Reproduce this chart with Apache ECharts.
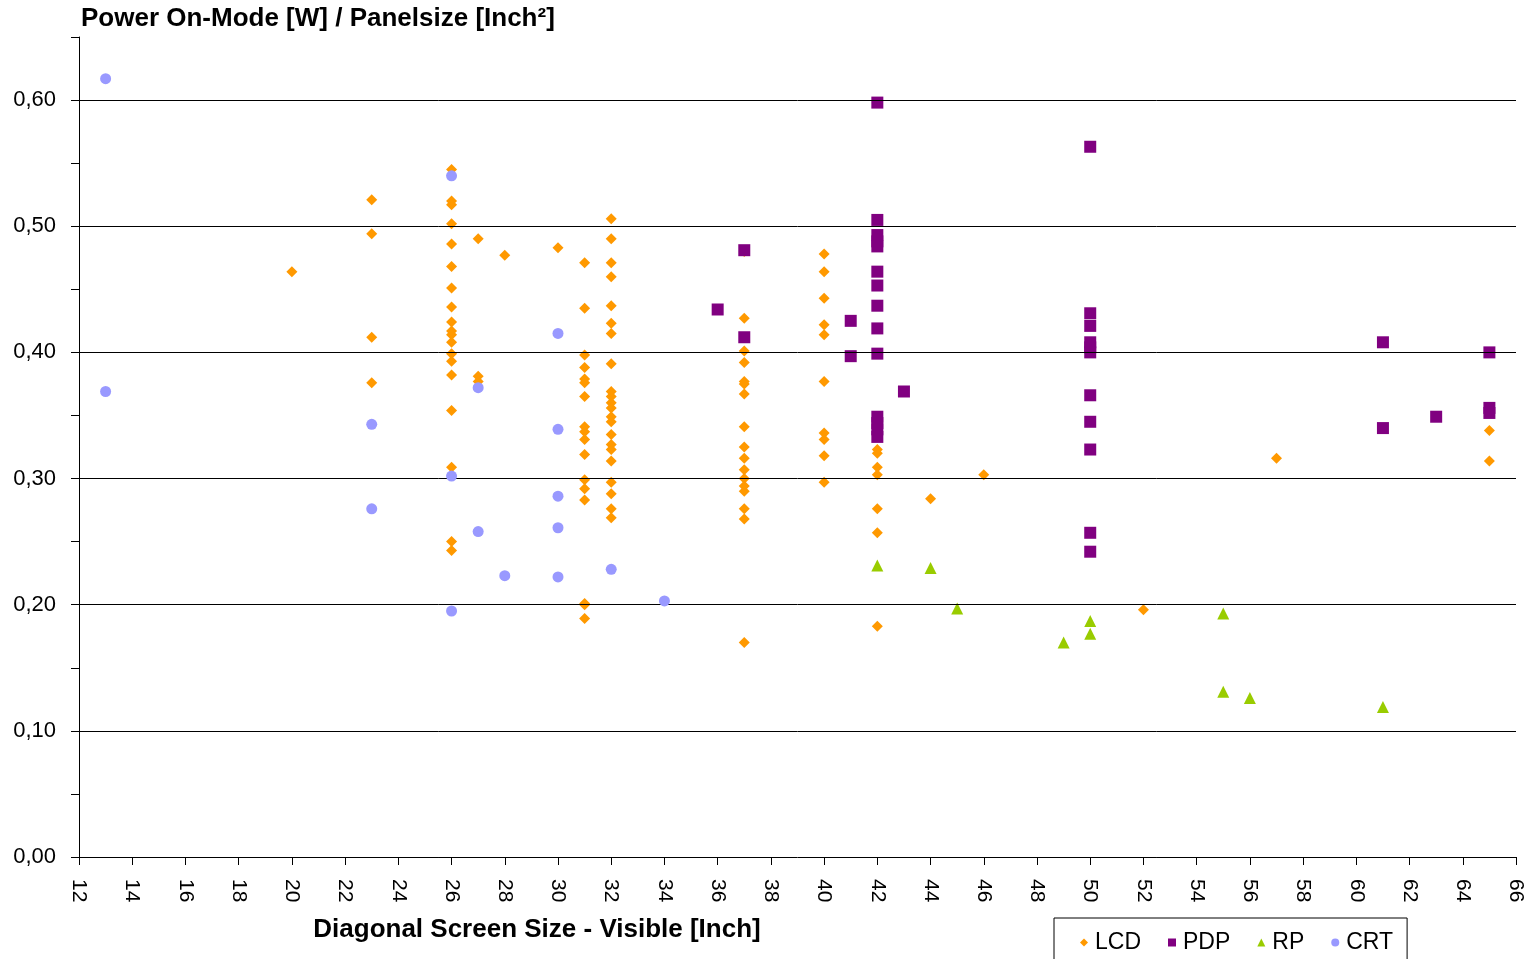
<!DOCTYPE html>
<html>
<head>
<meta charset="utf-8">
<script src="https://cdn.jsdelivr.net/npm/echarts@6/dist/echarts.min.js"></script>
<style>html,body{margin:0;padding:0;background:#fff}#c{width:1531px;height:959px}</style>
</head>
<body>
<div id="c"></div>
<script>
// Data [diagonal inch, W/inch²]
const lcdData = [
  [20,0.464],
  [23,0.521],[23,0.494],[23,0.412],[23,0.376],
  [26,0.545],[26,0.520],[26,0.517],[26,0.502],[26,0.486],[26,0.468],[26,0.451],[26,0.436],[26,0.424],[26,0.417],[26,0.414],[26,0.408],[26,0.399],[26,0.393],[26,0.382],[26,0.354],[26,0.309],[26,0.250],[26,0.243],
  [27,0.490],[27,0.381],[27,0.377],
  [28,0.477],
  [30,0.483],
  [31,0.471],[31,0.435],[31,0.398],[31,0.388],[31,0.379],[31,0.376],[31,0.365],[31,0.341],[31,0.337],[31,0.331],[31,0.319],[31,0.299],[31,0.292],[31,0.283],[31,0.201],[31,0.200],[31,0.189],
  [32,0.506],[32,0.490],[32,0.471],[32,0.460],[32,0.437],[32,0.423],[32,0.415],[32,0.391],[32,0.369],[32,0.365],[32,0.360],[32,0.356],[32,0.349],[32,0.345],[32,0.335],[32,0.327],[32,0.323],[32,0.314],[32,0.297],[32,0.288],[32,0.276],[32,0.269],
  [37,0.480],[37,0.427],[37,0.401],[37,0.392],[37,0.377],[37,0.375],[37,0.367],[37,0.341],[37,0.325],[37,0.316],[37,0.307],[37,0.300],[37,0.294],[37,0.290],[37,0.276],[37,0.268],[37,0.170],
  [40,0.478],[40,0.464],[40,0.443],[40,0.422],[40,0.414],[40,0.377],[40,0.336],[40,0.331],[40,0.318],[40,0.297],
  [42,0.323],[42,0.320],[42,0.309],[42,0.303],[42,0.276],[42,0.257],[42,0.183],
  [44,0.284],
  [46,0.303],
  [52,0.196],
  [57,0.316],
  [65,0.338],[65,0.314]
];
const pdpData = [
  [36,0.434],
  [37,0.481],[37,0.412],
  [41,0.425],[41,0.397],
  [42,0.598],[42,0.505],[42,0.493],[42,0.488],[42,0.484],[42,0.464],[42,0.453],[42,0.437],[42,0.419],[42,0.399],[42,0.349],[42,0.344],[42,0.339],[42,0.333],
  [43,0.369],
  [50,0.563],[50,0.431],[50,0.421],[50,0.408],[50,0.404],[50,0.400],[50,0.366],[50,0.345],[50,0.323],[50,0.257],[50,0.242],
  [61,0.408],[61,0.340],
  [63,0.349],
  [65,0.400],[65,0.356],[65,0.352]
];
const rpData = [
  [42,0.231],[44,0.229],[45,0.197],[49,0.170],[50,0.187],[50,0.177],
  [55,0.193],[55,0.131],[56,0.126],[61,0.119]
];
const crtData = [
  [13,0.617],[13,0.369],
  [23,0.343],[23,0.276],
  [26,0.540],[26,0.302],[26,0.195],
  [27,0.372],[27,0.258],
  [28,0.223],
  [30,0.415],[30,0.339],[30,0.286],[30,0.261],[30,0.222],
  [32,0.228],
  [34,0.203]
];
const seriesNames = ['LCD','PDP','RP','CRT'];
const gridValues = [0.1,0.2,0.3,0.4,0.5,0.6];
const titleText = 'Power On-Mode [W] / Panelsize [Inch²]';
const xTitleText = 'Diagonal Screen Size - Visible [Inch]';

const chart = echarts.init(document.getElementById('c'), null, {renderer:'canvas'});
const font = 'Liberation Sans, Arial, sans-serif';
chart.setOption({
  animation: false,
  backgroundColor: '#fff',
  title: [
    {text: titleText, left: 81, top: 6, padding: 0, textStyle:{fontFamily:font, fontSize:26, fontWeight:'bold', color:'#000'}},
    {text: xTitleText, left: 537, top: 917, padding: 0, textAlign:'center', textStyle:{fontFamily:font, fontSize:26, fontWeight:'bold', color:'#000'}}
  ],
  grid: {left: 79, right: 15, top: 37, bottom: 102, containLabel:false},
  legend: {
    data: seriesNames,
    left: 1054, top: 918,
    padding: [13, 14, 30, 26],
    borderColor: '#000', borderWidth: 1,
    itemWidth: 8, itemHeight: 8, itemGap: 27,
    textStyle: {fontFamily: font, fontSize: 23, color:'#000', padding:[0,0,0,2]}
  },
  xAxis: {
    type:'value', min:12, max:66, interval:2,
    axisLine:{show:true, lineStyle:{color:'#000', width:1}},
    axisTick:{show:true, length:8, lineStyle:{color:'#000'}},
    axisLabel:{rotate:-90, margin:22, fontFamily:font, fontSize:21, color:'#000'},
    splitLine:{show:false}
  },
  yAxis: {
    type:'value', min:0, max:0.65, interval:0.05,
    axisLine:{show:true, lineStyle:{color:'#000', width:1}},
    axisTick:{show:true, length:8, lineStyle:{color:'#000'}},
    axisLabel:{margin:23, fontFamily:font, fontSize:22, color:'#000',
      formatter: v => (Math.round(v*100) % 10 === 0 ? v.toFixed(2).replace('.', ',') : '')},
    splitLine:{show:false}
  },
  series: [
    {name:'LCD', type:'scatter', data: lcdData, symbol:'diamond', symbolSize:11, itemStyle:{color:'#FF9900', opacity:1}, z:2,
     markLine:{silent:true, symbol:'none', label:{show:false}, lineStyle:{color:'#000', width:1, type:'solid'},
       data: gridValues.map(v => ({yAxis: v}))}},
    {name:'PDP', type:'scatter', data: pdpData, symbol:'rect', symbolSize:12, itemStyle:{color:'#800080', opacity:1}, z:3},
    {name:'RP', type:'scatter', data: rpData, symbol:'triangle', symbolSize:12, itemStyle:{color:'#99CC00', opacity:1}, z:4},
    {name:'CRT', type:'scatter', data: crtData, symbol:'circle', symbolSize:11, itemStyle:{color:'#9999FF', opacity:1}, z:5}
  ]
});
</script>
</body>
</html>
